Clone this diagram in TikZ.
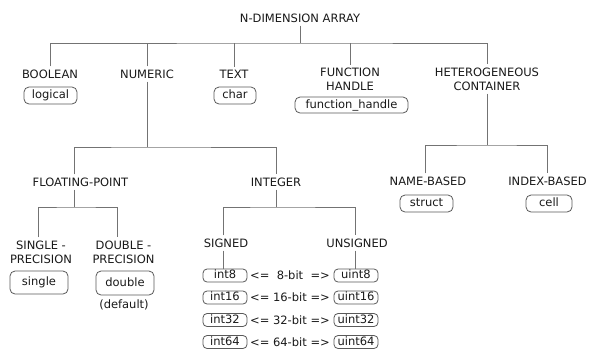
\documentclass[tikz,border=0pt]{standalone}
\usepackage{fontspec}
\setmainfont{DejaVu Sans}
\definecolor{linec}{gray}{0.45}
\definecolor{boxc}{gray}{0.35}
\definecolor{txt}{gray}{0.1}
\begin{document}
\begin{tikzpicture}[x=1pt,y=-1pt,
  lab/.style={inner sep=3pt, align=center, text=txt, font=\fontsize{11.5}{14}\selectfont},
  tbox/.style={draw=boxc, line width=0.8pt, rounded corners=5pt, inner sep=0pt, text=txt,
    text height=8.5pt, text depth=2.5pt, font=\fontsize{11.5}{14}\selectfont},
  ibox/.style={tbox, rounded corners=4pt, minimum width=44pt, minimum height=13pt},
  midt/.style={inner sep=0pt, text=txt, font=\fontsize{11.5}{14}\selectfont},
  conn/.style={draw=linec, line width=0.8pt}]
\useasboundingbox (0,0) rectangle (591,349);

% labels
\node[lab] (root) at (300,18) {N-DIMENSION ARRAY};
\node[lab] (bool) at (50,74) {BOOLEAN};
\node[lab] (num) at (147,74) {NUMERIC};
\node[lab] (text) at (234,74) {TEXT};
\node[lab] (fh) at (350,79) {FUNCTION\\HANDLE};
\node[lab] (hc) at (487,79) {HETEROGENEOUS\\CONTAINER};
\node[lab] (fp) at (80.5,182) {FLOATING-POINT};
\node[lab] (int) at (276,182) {INTEGER};
\node[lab] (nb) at (428,181) {NAME-BASED};
\node[lab] (ib) at (547.5,181) {INDEX-BASED};
\node[lab] (sp) at (41,252) {SINGLE -\\PRECISION};
\node[lab] (dp) at (123.5,252) {DOUBLE -\\PRECISION};
\node[lab] (dflt) at (124,305) {(default)};
\node[lab] (signed) at (226,243) {SIGNED};
\node[lab] (unsigned) at (357,243) {UNSIGNED};

% boxes
\node[tbox, minimum width=53pt, minimum height=17pt] (logical) at (50.5,95.5) {logical};
\node[tbox, minimum width=42pt, minimum height=17pt] (char) at (235,95.5) {char};
\node[tbox, minimum width=113pt, minimum height=16pt] (fhb) at (351.5,105) {function\_handle};
\node[tbox, minimum width=53pt, minimum height=17pt] (struct) at (426.5,203.5) {struct};
\node[tbox, minimum width=46pt, minimum height=17pt] (cell) at (549,203.5) {cell};
\node[tbox, minimum width=58pt, minimum height=23pt] (single) at (39,282.5) {single};
\node[tbox, minimum width=58pt, minimum height=24pt] (double) at (125,283) {double};

\node[ibox] (int8) at (225,275.5) {int8};
\node[ibox] (int16) at (225,297.5) {int16};
\node[ibox] (int32) at (225,320) {int32};
\node[ibox] (int64) at (225,342) {int64};
\node[ibox] (uint8) at (356,275.5) {uint8};
\node[ibox] (uint16) at (356,297.5) {uint16};
\node[ibox] (uint32) at (356,320) {uint32};
\node[ibox] (uint64) at (356,342) {uint64};
\node[midt] (m8) at (290,275.5) {<=~~8-bit~~=>};
\node[midt] (m16) at (290,297.5) {<= 16-bit =>};
\node[midt] (m32) at (290,320) {<= 32-bit =>};
\node[midt] (m64) at (290,342) {<= 64-bit =>};

% connectors
\coordinate (j0) at (300,43);
\draw[conn] (root.south) -- (j0);
\draw[conn] (bool.north) |- (j0) -| (hc.north);
\draw[conn] (num.north) -- (num.north |- j0);
\draw[conn] (text.north) -- (text.north |- j0);
\draw[conn] (fh.north) -- (fh.north |- j0);

\coordinate (j1) at (147,147);
\draw[conn] (num.south) -- (j1);
\draw[conn] ([xshift=-6pt]fp.north) |- (j1) -| (int.north);

\coordinate (j2) at (74.5,207);
\draw[conn] ([xshift=-6pt]fp.south) -- (j2);
\draw[conn] ([xshift=-3pt]sp.north) |- (j2) -| ([xshift=-6.5pt]dp.north);

\coordinate (j3) at (276,207);
\draw[conn] (int.south) -- (j3);
\draw[conn] ([xshift=-3pt]signed.north) |- (j3) -| ([xshift=-2pt]unsigned.north);
\draw[conn] ([xshift=-3pt]signed.south) -- ([xshift=-3pt]signed.south |- int8.north);
\draw[conn] ([xshift=-2pt]unsigned.south) -- ([xshift=-2pt]unsigned.south |- uint8.north);

\coordinate (j4) at (487,145);
\draw[conn] (hc.south) -- (j4);
\draw[conn] ([xshift=-3pt]nb.north) |- (j4) -| (ib.north);
\end{tikzpicture}
\end{document}
